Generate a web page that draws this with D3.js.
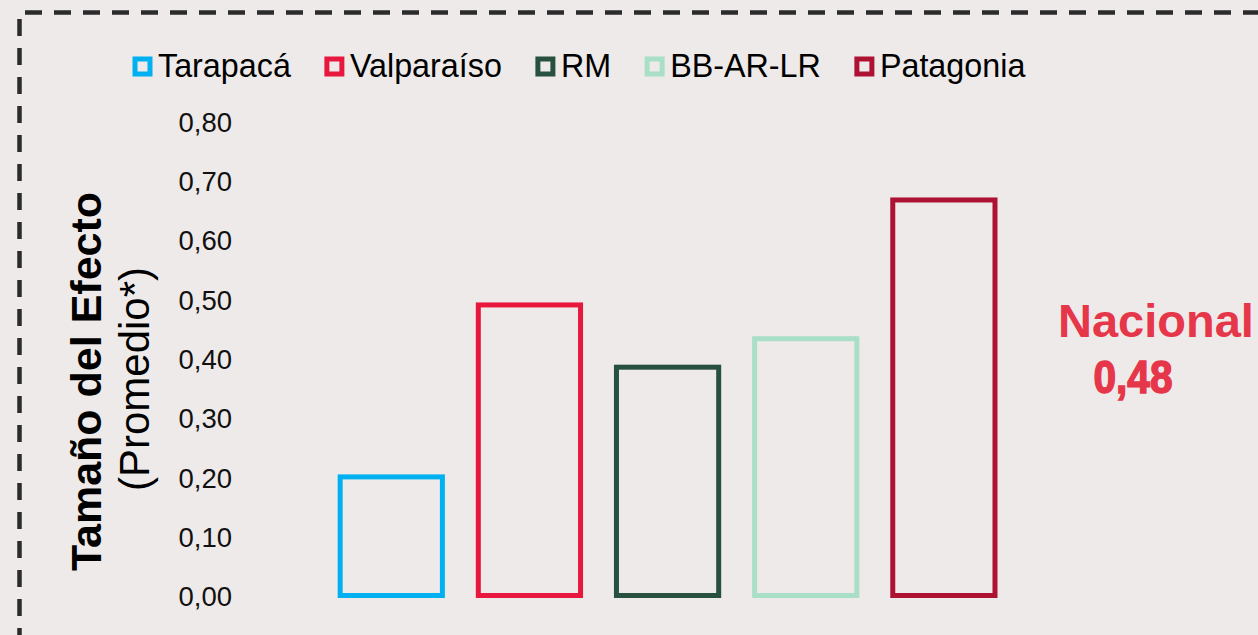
<!DOCTYPE html>
<meta charset="utf-8">
<style>
body {
  margin: 0;
  background: #eeeae9;
  font-family: "Liberation Sans", Arial, sans-serif;
}
.axis--y path, .axis--y line { display: none; }
.axis--y text {
  font-family: "Liberation Sans", Arial, sans-serif;
  font-size: 27.5px;
  fill: #111;
}
.legend text { font-size: 32.3px; fill: #000; }
</style>
<svg id="chart"></svg>
<script src="https://d3js.org/d3.v7.min.js"></script>
<script>

// data
let regions = ["Tarapacá", "Valparaíso", "RM", "BB-AR-LR", "Patagonia"];
let values = [0.20, 0.49, 0.385, 0.433, 0.667];
let colors = ["#00b0f0", "#e8173d", "#28503f", "#a9dec7", "#ae1232"];
let ticks = [0, 0.1, 0.2, 0.3, 0.4, 0.5, 0.6, 0.7, 0.8];
let nacional = 0.48;

let W = 1258, H = 635;

let svg = d3.select("#chart")
  .attr("width", W)
  .attr("height", H);

// dashed frame (runs off the right and bottom edges)
svg.append("path")
  .attr("d", "M19.5," + (H + 10) + "V12.5H" + (W + 10))
  .attr("fill", "none")
  .attr("stroke", "#2b2b2b")
  .attr("stroke-width", 4.5)
  .attr("stroke-dasharray", "17,12");

let x = d3.scaleBand()
  .domain(regions)
  .range([322.2, 1012.95])
  .paddingInner(0.26)
  .paddingOuter(0.13);

let y = d3.scaleLinear()
  .domain([0, 0.8])
  .range([595.5, 121.1]);

let fmt = d => d3.format(".2f")(d).replace(".", ",");

svg.append("g")
  .attr("class", "axis axis--y")
  .attr("transform", "translate(232,0)")
  .call(d3.axisLeft(y).tickValues(ticks).tickFormat(fmt).tickSize(0).tickPadding(0))
  .selectAll("text")
  .attr("dy", "0.37em");

// bars: outlined only
svg.append("g").selectAll("rect")
  .data(regions)
  .enter().append("rect")
  .attr("x", d => x(d))
  .attr("y", (d, i) => y(values[i]))
  .attr("width", x.bandwidth())
  .attr("height", (d, i) => y(0) - y(values[i]))
  .attr("fill", "none")
  .attr("stroke", (d, i) => colors[i])
  .attr("stroke-width", 5);

// axis title
let title = svg.append("g");
title.append("text")
  .attr("transform", "translate(100.5,381.5) rotate(-90)")
  .attr("text-anchor", "middle")
  .attr("font-size", 43)
  .attr("font-weight", 700)
  .text("Tamaño del Efecto");
title.append("text")
  .attr("transform", "translate(149,379) rotate(-90)")
  .attr("text-anchor", "middle")
  .attr("font-size", 42)
  .text("(Promedio*)");

// legend, laid out left to right
let legend = svg.append("g").attr("class", "legend");
let lx = 132.5;
regions.forEach((r, i) => {
  legend.append("rect")
    .attr("x", lx + 2.5)
    .attr("y", 59)
    .attr("width", 15)
    .attr("height", 15)
    .attr("fill", "none")
    .attr("stroke", colors[i])
    .attr("stroke-width", 5);
  let t = legend.append("text")
    .attr("x", lx + 25.5)
    .attr("y", 77)
    .text(r);
  lx += 25.5 + t.node().getComputedTextLength() + 33.5;
});

// national average
svg.append("text")
  .attr("x", 1058)
  .attr("y", 336.5)
  .attr("font-size", 47)
  .attr("font-weight", 700)
  .attr("fill", "#e6364a")
  .text("Nacional");
svg.append("text")
  .attr("x", 1093.5)
  .attr("y", 393.3)
  .attr("font-size", 46)
  .attr("font-weight", 700)
  .attr("fill", "#e6364a")
  .attr("stroke", "#e6364a")
  .attr("stroke-width", 1.5)
  .attr("textLength", 79)
  .attr("lengthAdjust", "spacingAndGlyphs")
  .text(fmt(nacional));

</script>
